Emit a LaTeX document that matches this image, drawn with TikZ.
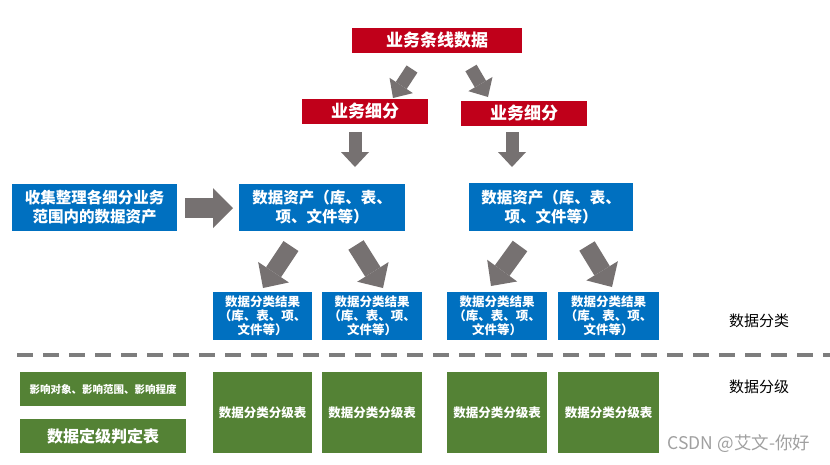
\documentclass[tikz,border=0pt]{standalone}
\usepackage{fontspec}
\setmainfont{Noto Sans CJK SC}
\usetikzlibrary{arrows.meta,calc}
\definecolor{cred}{RGB}{192,0,26}
\definecolor{cblue}{RGB}{0,112,192}
\definecolor{cgreen}{RGB}{84,130,53}
\definecolor{agray}{RGB}{118,113,113}
\definecolor{lgray}{RGB}{125,125,125}
\definecolor{wgray}{RGB}{160,160,160}
\tikzset{
  redbox/.style={fill=cred, text=white, inner sep=0pt, align=center,
    font=\fontsize{17}{20}\selectfont\bfseries},
  bluebox/.style={fill=cblue, text=white, inner sep=0pt, align=center,
    font=\fontsize{15.5}{19}\selectfont\bfseries},
  smallblue/.style={fill=cblue, text=white, inner sep=0pt, align=center,
    font=\fontsize{12.5}{14}\selectfont\bfseries},
  greenbox/.style={fill=cgreen, text=white, inner sep=0pt, align=center,
    font=\fontsize{12.5}{14}\selectfont\bfseries},
  sidelabel/.style={text=black, inner sep=0pt, font=\fontsize{15}{18}\selectfont},
  arrS/.style={draw=agray, line width=13pt,
    -{Triangle[width=28pt,length=15pt,line width=0pt]}},
  arrM/.style={draw=agray, line width=18pt,
    -{Triangle[width=37pt,length=19pt,line width=0pt]}},
  arrL/.style={draw=agray, line width=20pt,
    -{Triangle[width=40pt,length=20pt,line width=0pt]}},
  divider/.style={draw=lgray, line width=3.5pt, dash pattern=on 16pt off 10pt}
}
\begin{document}
\begin{tikzpicture}[x=1pt,y=-1pt]
\useasboundingbox[fill=white] (0,0) rectangle (830,464);

% red boxes
\node[redbox, minimum width=170pt, minimum height=25pt] (top) at (437,40.5) {业务条线数据};
\node[redbox, minimum width=126pt, minimum height=25pt] (sub1) at (365,111.5) {业务细分};
\node[redbox, minimum width=126pt, minimum height=25pt] (sub2) at (524,113.5) {业务细分};

% blue boxes
\node[bluebox, minimum width=165pt, minimum height=47pt] (collect) at (94.5,207.5) {收集整理各细分业务\\范围内的数据资产};
\node[bluebox, minimum width=166pt, minimum height=47pt] (asset1) at (322,207.5) {数据资产（库、表、\\项、文件等）};
\node[bluebox, minimum width=164pt, minimum height=48pt] (asset2) at (551,207) {数据资产（库、表、\\项、文件等）};

\node[smallblue, minimum width=99pt, minimum height=48pt] (res1) at (262.5,316) {数据分类结果\\（库、表、项、\\文件等）};
\node[smallblue, minimum width=100pt, minimum height=48pt] (res2) at (372,316) {数据分类结果\\（库、表、项、\\文件等）};
\node[smallblue, minimum width=100pt, minimum height=48pt] (res3) at (497,316) {数据分类结果\\（库、表、项、\\文件等）};
\node[smallblue, minimum width=101pt, minimum height=48pt] (res4) at (608.5,316) {数据分类结果\\（库、表、项、\\文件等）};

% green boxes
\node[greenbox, minimum width=166pt, minimum height=34pt, font=\fontsize{10.5}{12}\selectfont\bfseries] (impact) at (103,389) {影响对象、影响范围、影响程度};
\node[greenbox, minimum width=166pt, minimum height=34pt, font=\fontsize{16}{19}\selectfont\bfseries] (judge) at (103,436) {数据定级判定表};
\node[greenbox, minimum width=99pt, minimum height=81pt] (g1) at (262.5,412.5) {数据分类分级表};
\node[greenbox, minimum width=100pt, minimum height=81pt] (g2) at (372,412.5) {数据分类分级表};
\node[greenbox, minimum width=100pt, minimum height=81pt] (g3) at (497,412.5) {数据分类分级表};
\node[greenbox, minimum width=101pt, minimum height=81pt] (g4) at (608.5,412.5) {数据分类分级表};

% side labels
\node[sidelabel] (lblclass) at (759,321) {数据分类};
\node[sidelabel] (lblgrade) at (759,387) {数据分级};
\node[text=wgray, inner sep=0pt, font=\fontsize{17.5}{20}\selectfont] (wm) at (739,444) {CSDN @艾文-你好};

% divider
\coordinate (dl) at (17,355);
\coordinate (dr) at (830,355);
\draw[divider] (dl) -- (dr);

% arrow endpoints
\coordinate (t1a) at (412,69);  \coordinate (t1b) at (393,98);
\coordinate (t2a) at (471,68);  \coordinate (t2b) at (488,97);
\coordinate (v1a) at (355,132); \coordinate (v1b) at (355,167);
\coordinate (v2a) at (512,132); \coordinate (v2b) at (512,167);
\coordinate (ha) at (185,208);  \coordinate (hb) at (233,208);
\coordinate (m1a) at (291,246); \coordinate (m1b) at (263,288);
\coordinate (m2a) at (356,245); \coordinate (m2b) at (383,288);
\coordinate (m3a) at (520,246); \coordinate (m3b) at (491,286);
\coordinate (m4a) at (587,246); \coordinate (m4b) at (612,287);

\draw[arrS] (t1a) -- (t1b);
\draw[arrS] (t2a) -- (t2b);
\draw[arrS] (v1a) -- (v1b);
\draw[arrS] (v2a) -- (v2b);
\draw[arrL] (ha) -- (hb);
\draw[arrM] (m1a) -- (m1b);
\draw[arrM] (m2a) -- (m2b);
\draw[arrM] (m3a) -- (m3b);
\draw[arrM] (m4a) -- (m4b);
\end{tikzpicture}
\end{document}
